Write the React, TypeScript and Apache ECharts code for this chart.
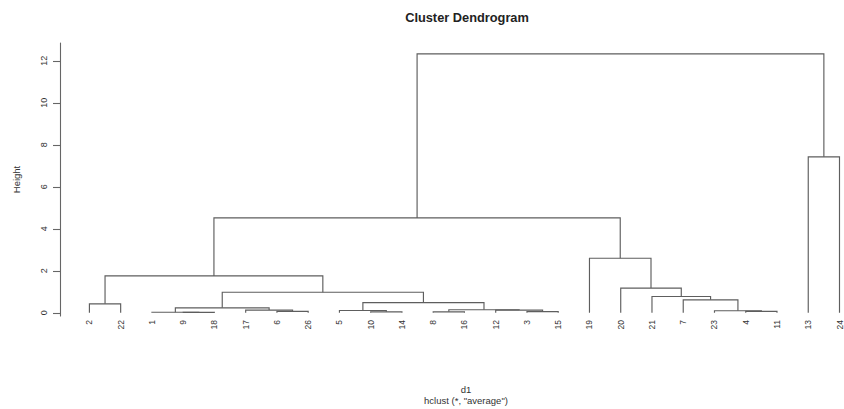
import React, { useEffect, useRef } from "react";
import * as echarts from "echarts";

// Leaf order as drawn (left to right)
const leafLabels = ["2", "22", "1", "9", "18", "17", "6", "26", "5", "10", "14", "8", "16", "12", "3", "15", "19", "20", "21", "7", "23", "4", "11", "13", "24"];

// hclust-style merge table: negative = observation label, positive = earlier merge step (1-based)
const mergeLeft = [-9, -1, -10, -6, -8, -4, -3, -5, -23, -17, -12, 5, 2, -2, 8, -7, -21, 13, -20, 14, -19, 20, -13, 22];
const mergeRight = [-18, 1, -14, -26, -16, -11, -15, 3, 6, 4, 7, 11, 10, -22, 12, 9, 16, 15, 17, 18, 19, 21, -24, 23];
const mergeHeight = [0.02, 0.03, 0.05, 0.07, 0.05, 0.07, 0.06, 0.11, 0.1, 0.13, 0.13, 0.15, 0.24, 0.43, 0.49, 0.62, 0.78, 0.98, 1.18, 1.76, 2.6, 4.52, 7.43, 12.33];

const yTicks = [0, 2, 4, 6, 8, 10, 12];
const leafPositions = leafLabels.map((_, i) => i + 1);

const FONT = "'Liberation Sans', Arial, sans-serif";

function buildLinks() {
  const pos: number[] = [];
  const links: number[][] = [];
  const child = (c: number) => {
    if (c < 0) {
      return { x: leafLabels.indexOf(String(-c)) + 1, h: 0 };
    }
    return { x: pos[c - 1], h: mergeHeight[c - 1] };
  };
  for (let i = 0; i < mergeHeight.length; i++) {
    const a = child(mergeLeft[i]);
    const b = child(mergeRight[i]);
    pos.push((a.x + b.x) / 2);
    links.push([a.x, b.x, a.h, b.h, mergeHeight[i]]);
  }
  return links;
}

export default function App() {
  const ref = useRef<HTMLDivElement>(null);
  useEffect(() => {
    if (!ref.current) return;
    const chart = echarts.init(ref.current, null, { renderer: "svg" });
    const links = buildLinks();
    chart.setOption({
      animation: false,
      backgroundColor: "#ffffff",
      grid: { left: 60, right: 0, top: 43, bottom: 93, containLabel: false },
      xAxis: {
        type: "value",
        min: 0.059,
        max: 25.067,
        axisLine: { show: false },
        axisTick: { show: false },
        splitLine: { show: false },
        axisLabel: {
          customValues: leafPositions,
          formatter: (v: number) => leafLabels[Math.round(v) - 1],
          rotate: 90,
          margin: 4,
          fontSize: 8.5,
          color: "#333",
          fontFamily: FONT,
        },
      },
      yAxis: {
        type: "value",
        min: -0.15,
        max: 12.85,
        name: "Height",
        nameLocation: "middle",
        nameRotate: 90,
        nameGap: 39,
        nameTextStyle: { fontSize: 9.5, color: "#333", fontFamily: FONT },
        axisLine: { show: true, lineStyle: { color: "#666", width: 1.1 } },
        axisTick: { show: true, customValues: yTicks, length: 7, lineStyle: { color: "#666", width: 1.1 } },
        splitLine: { show: false },
        axisLabel: {
          customValues: yTicks,
          rotate: 90,
          margin: 12,
          fontSize: 9,
          color: "#333",
          fontFamily: FONT,
        },
      },
      graphic: [
        {
          type: "text",
          x: 467,
          y: 17,
          style: {
            text: "Cluster Dendrogram",
            font: `bold 12.8px ${FONT}`,
            fill: "#222",
            align: "center",
            verticalAlign: "middle",
          },
        },
        {
          type: "text",
          x: 466,
          y: 389,
          style: { text: "d1", font: `9.5px ${FONT}`, fill: "#333", align: "center", verticalAlign: "middle" },
        },
        {
          type: "text",
          x: 466,
          y: 400,
          style: {
            text: 'hclust (*, "average")',
            font: `9.5px ${FONT}`,
            fill: "#333",
            align: "center",
            verticalAlign: "middle",
          },
        },
      ],
      series: [
        {
          type: "custom",
          data: links,
          encode: { x: [0, 1], y: [2, 3, 4] },
          renderItem: (_params: any, api: any) => {
            const xl = api.value(0);
            const xr = api.value(1);
            const hl = api.value(2);
            const hr = api.value(3);
            const h = api.value(4);
            const pts = [api.coord([xl, hl]), api.coord([xl, h]), api.coord([xr, h]), api.coord([xr, hr])];
            return {
              type: "polyline",
              shape: { points: pts },
              style: { stroke: "#5e5e5e", lineWidth: 1.15, fill: "none" },
            };
          },
        },
      ],
    });
    return () => chart.dispose();
  }, []);
  return (
    <div
      ref={ref}
      style={{ position: "absolute", left: 0, top: 0, width: 844, height: 409, background: "#fff" }}
    />
  );
}
